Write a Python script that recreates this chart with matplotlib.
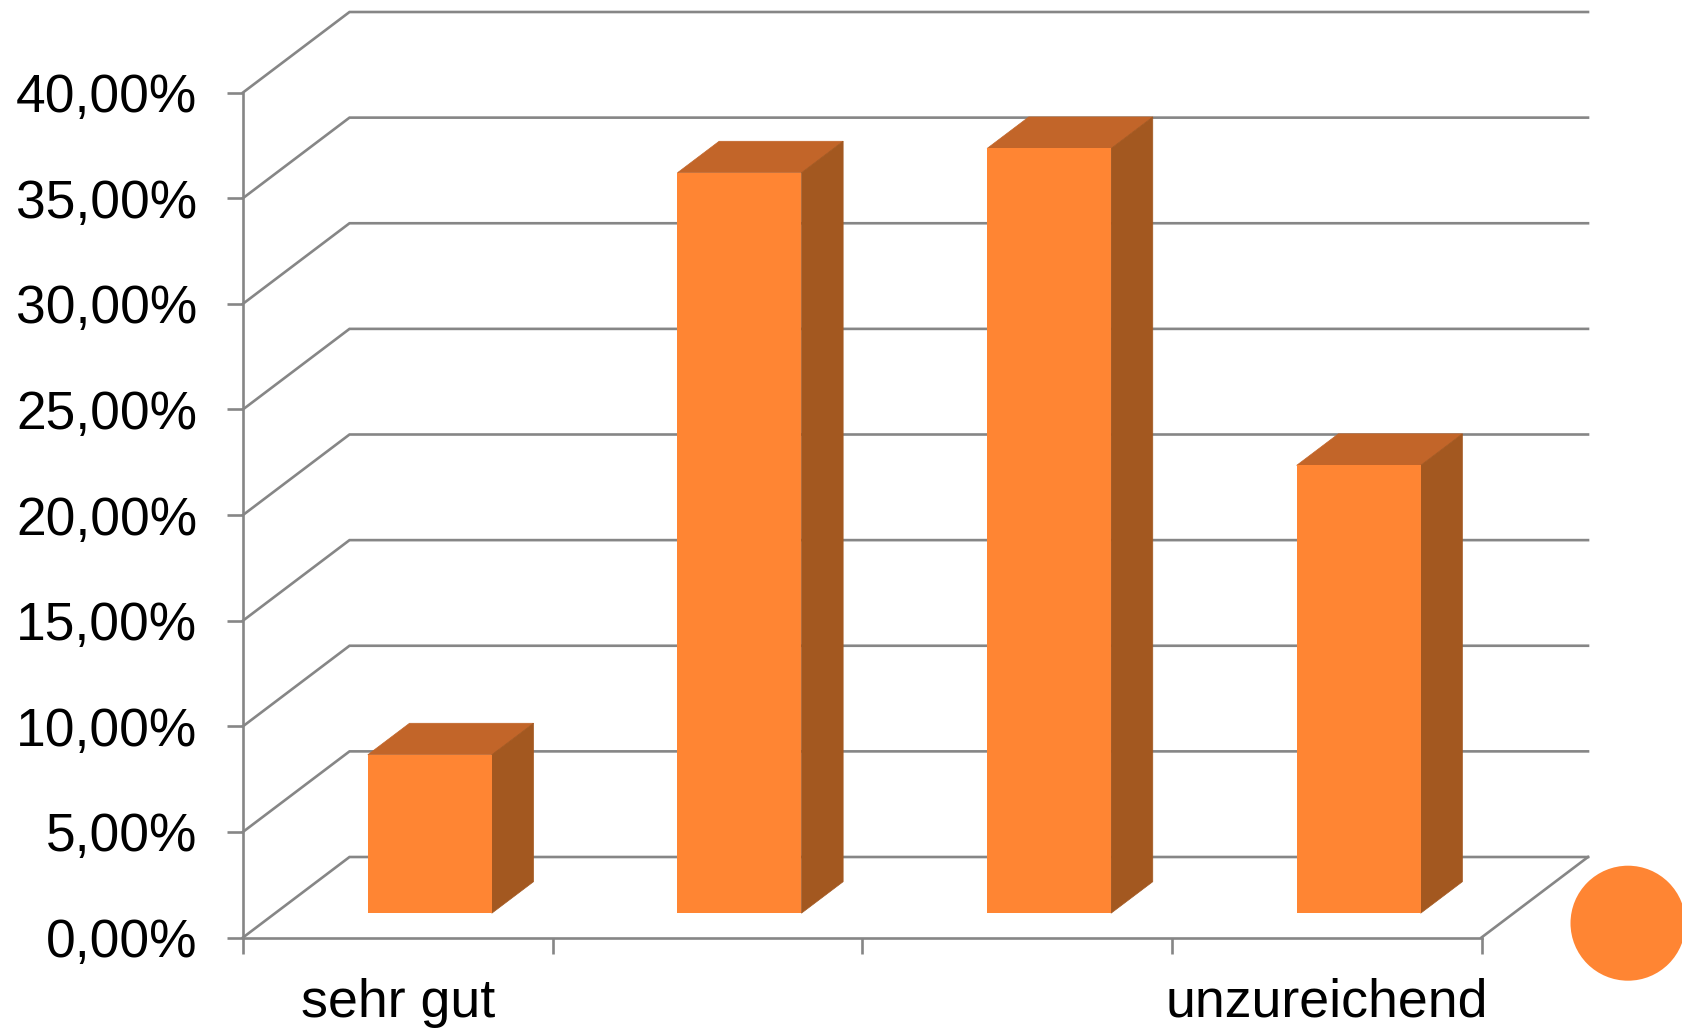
import matplotlib
matplotlib.use("Agg")
import matplotlib.pyplot as plt
from matplotlib.patches import Circle
from matplotlib.transforms import IdentityTransform
from matplotlib.ticker import FuncFormatter

categories = ["sehr gut", "", "", "unzureichend"]
values = [7.5, 35.05, 36.2, 21.2]
y_ticks = [0, 5, 10, 15, 20, 25, 30, 35, 40]

W, H = 1682, 1028
LEFT, RIGHT, BOTTOM, TOP = 243, 1481.5, 937.5, 92.5
FRONT, SIDE, ROOF = "#FF8533", "#A35820", "#C26529"
GRID = "#868686"
LW = 1.9

plt.rcParams["font.family"] = ["Liberation Sans", "DejaVu Sans"]
fig = plt.figure(figsize=(W / 100, H / 100), dpi=100, facecolor="white")
ax = fig.add_axes([LEFT / W, 1 - BOTTOM / H, (RIGHT - LEFT) / W, (BOTTOM - TOP) / H])
ax.set_xlim(0, len(categories))
ax.set_ylim(0, 40)
ax.patch.set_visible(False)

px_x = (RIGHT - LEFT) / len(categories)
px_y = (BOTTOM - TOP) / 40
DX, DY = 106.5 / px_x, 80.5 / px_y        # depth of the chart box
BX, BY = 32 / px_x, 24.3 / px_y           # front face of the bars
SX, SY = 41.7 / px_x, 31.5 / px_y         # depth of the bars
BAR_W = 124 / px_x

# walls and floor
for v in y_ticks:
    ax.plot([0, DX, len(categories) + DX], [v, v + DY, v + DY],
            color=GRID, lw=LW, clip_on=False, zorder=1, solid_joinstyle="miter")
ax.plot([len(categories), len(categories) + DX], [0, DY], color=GRID, lw=LW, clip_on=False, zorder=1)

# bars
for i, v in enumerate(values):
    x0 = i + 0.5 + BX - BAR_W / 2
    x1 = x0 + BAR_W
    ax.fill([x0, x1, x1 + SX, x0 + SX], [BY + v, BY + v, BY + v + SY, BY + v + SY],
            facecolor=ROOF, edgecolor=ROOF, lw=0.5, clip_on=False, zorder=3)
    ax.fill([x1, x1 + SX, x1 + SX, x1], [BY, BY + SY, BY + v + SY, BY + v],
            facecolor=SIDE, edgecolor=SIDE, lw=0.5, clip_on=False, zorder=3)
    ax.bar(x0, v, BAR_W, bottom=BY, align="edge", color=FRONT, clip_on=False, zorder=4)

# axes
for s in ("top", "right"):
    ax.spines[s].set_visible(False)
for s in ("left", "bottom"):
    ax.spines[s].set_color(GRID)
    ax.spines[s].set_linewidth(LW)
ax.set_yticks(y_ticks)
ax.yaxis.set_major_formatter(FuncFormatter(lambda v, _: f"{v:.2f}%".replace(".", ",")))
ax.tick_params(axis="y", length=11.5, width=LW, color=GRID, pad=21.5, labelsize=38.4, labelcolor="black")
ax.set_xticks(range(len(categories) + 1))
ax.set_xticklabels([])
ax.set_xticks([i + 0.5 for i in range(len(categories))], labels=categories, minor=True)
ax.tick_params(axis="x", which="major", length=11.5, width=LW, color=GRID)
ax.tick_params(axis="x", which="minor", length=0, pad=29, labelsize=38.7, labelcolor="black")

# legend key
fig.add_artist(Circle((1628, H - 923.2), 57.5, transform=IdentityTransform(), color=FRONT, lw=0))

fig.savefig("out.png", dpi=100, facecolor="white")
